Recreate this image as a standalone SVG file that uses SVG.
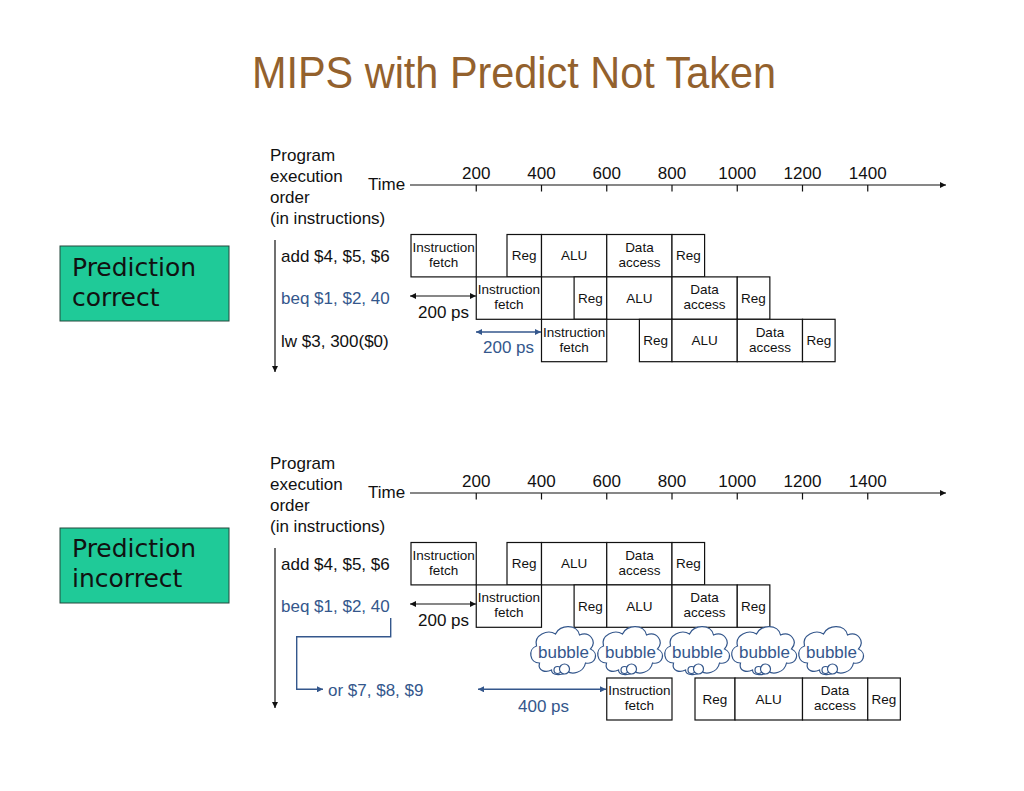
<svg xmlns="http://www.w3.org/2000/svg" width="1024" height="791" viewBox="0 0 1024 791">
<style>
.t{font-family:"Liberation Sans",Arial,sans-serif;fill:#111}
.lbl{font-size:17px}
.bl{fill:#34578c}
.bx{font-size:13.5px;text-anchor:middle}
.ax{font-size:17px;text-anchor:middle}
rect.st{fill:#fff;stroke:#111;stroke-width:1.2}
.ln{stroke:#111;stroke-width:1.2;fill:none}
.lnb{stroke:#34578c;stroke-width:1.4;fill:none}
.pred{fill:#1fca98;stroke:#24493d;stroke-width:1}
.pt{font-family:"DejaVu Sans",sans-serif;font-size:25px;fill:#111}
.cl{fill:#fff;stroke:#34578c;stroke-width:1.2}
.bt{font-family:"Liberation Sans",Arial,sans-serif;font-size:17px;fill:#34578c;text-anchor:middle}
</style>
<defs>
<marker id="ak" viewBox="0 0 10 10" refX="10" refY="5" markerWidth="8" markerHeight="6" markerUnits="userSpaceOnUse" orient="auto-start-reverse"><path d="M0,0L10,5L0,10z" fill="#111"/></marker>
<marker id="ab" viewBox="0 0 10 10" refX="10" refY="5" markerWidth="8" markerHeight="6" markerUnits="userSpaceOnUse" orient="auto-start-reverse"><path d="M0,0L10,5L0,10z" fill="#34578c"/></marker>
<g id="cloud">
<path class="cl" d="M-24,12 C-34,12 -36,-2 -27,-5 C-30,-16 -16,-22 -8,-17 C-4,-27 14,-27 16,-16 C26,-20 34,-10 27,-2 C36,2 32,14 22,12 C20,22 8,24 4,20 C0,25 -12,25 -12,19 C-18,22 -26,20 -24,12 Z"/>
<circle class="cl" cx="-6" cy="19" r="3.5"/>
<circle class="cl" cx="1" cy="18" r="5"/>
</g>
</defs>

<g id="title">
<text x="252" y="88" font-family="Liberation Sans, Arial, sans-serif" font-size="44" fill="#93612d" textLength="524" lengthAdjust="spacingAndGlyphs">MIPS with Predict Not Taken</text>
</g>

<g id="pred-correct">
<rect class="pred" x="60" y="246" width="169" height="75"/>
<text class="pt" x="72" y="276">Prediction</text>
<text class="pt" x="72" y="306">correct</text>
</g>
<g id="pred-incorrect">
<rect class="pred" x="60" y="528" width="169" height="75"/>
<text class="pt" x="72" y="557">Prediction</text>
<text class="pt" x="72" y="587">incorrect</text>
</g>

<!-- ================= TOP ================= -->
<g id="top-axis">
<text class="t lbl" x="270" y="161">Program</text>
<text class="t lbl" x="270" y="182">execution</text>
<text class="t lbl" x="270" y="203">order</text>
<text class="t lbl" x="270" y="224">(in instructions)</text>
<text class="t lbl" x="368" y="190">Time</text>
<text class="t ax" x="476.25" y="179">200</text>
<text class="t ax" x="541.5" y="179">400</text>
<text class="t ax" x="606.75" y="179">600</text>
<text class="t ax" x="672" y="179">800</text>
<text class="t ax" x="737.25" y="179">1000</text>
<text class="t ax" x="802.5" y="179">1200</text>
<text class="t ax" x="867.75" y="179">1400</text>
</g>

<g id="top-add">
<text class="t lbl" x="281" y="262">add $4, $5, $6</text>
<rect class="st" x="411" y="234.5" width="65.25" height="42.4"/>
<text class="t bx" x="443.6" y="252">Instruction</text><text class="t bx" x="443.6" y="267">fetch</text>
<rect class="st" x="507" y="234.5" width="34.5" height="42.4"/>
<text class="t bx" x="524.2" y="260">Reg</text>
<rect class="st" x="541.5" y="234.5" width="65.25" height="42.4"/>
<text class="t bx" x="574.1" y="260">ALU</text>
<rect class="st" x="606.75" y="234.5" width="65.25" height="42.4"/>
<text class="t bx" x="639.4" y="252">Data</text><text class="t bx" x="639.4" y="267">access</text>
<rect class="st" x="672" y="234.5" width="32.6" height="42.4"/>
<text class="t bx" x="688.3" y="260">Reg</text>
</g>

<g id="top-beq">
<text class="t lbl bl" x="281" y="304">beq $1, $2, 40</text>
<rect class="st" x="476.25" y="276.9" width="65.25" height="42.4"/>
<text class="t bx" x="508.9" y="294.3">Instruction</text><text class="t bx" x="508.9" y="309.3">fetch</text>
<rect class="st" x="574.1" y="276.9" width="32.65" height="42.4"/>
<text class="t bx" x="590.4" y="302.6">Reg</text>
<rect class="st" x="606.75" y="276.9" width="65.25" height="42.4"/>
<text class="t bx" x="639.4" y="302.6">ALU</text>
<rect class="st" x="672" y="276.9" width="65.25" height="42.4"/>
<text class="t bx" x="704.6" y="294.3">Data</text><text class="t bx" x="704.6" y="309.3">access</text>
<rect class="st" x="737.25" y="276.9" width="32.6" height="42.4"/>
<text class="t bx" x="753.5" y="302.6">Reg</text>
</g>

<g id="top-lw">
<text class="t lbl" x="281" y="346.5">lw  $3, 300($0)</text>
<rect class="st" x="541.5" y="319.3" width="65.25" height="42.4"/>
<text class="t bx" x="574.1" y="336.7">Instruction</text><text class="t bx" x="574.1" y="351.7">fetch</text>
<rect class="st" x="639.4" y="319.3" width="32.6" height="42.4"/>
<text class="t bx" x="655.7" y="345">Reg</text>
<rect class="st" x="672" y="319.3" width="65.25" height="42.4"/>
<text class="t bx" x="704.6" y="345">ALU</text>
<rect class="st" x="737.25" y="319.3" width="65.25" height="42.4"/>
<text class="t bx" x="769.9" y="336.7">Data</text><text class="t bx" x="769.9" y="351.7">access</text>
<rect class="st" x="802.5" y="319.3" width="32.6" height="42.4"/>
<text class="t bx" x="818.8" y="345">Reg</text>
</g>

<g id="top-times">
<text class="t lbl" x="418" y="318">200 ps</text>
<text class="t lbl bl" x="483" y="353">200 ps</text>
</g>

<!-- ================= BOTTOM ================= -->
<g id="bot-axis">
<text class="t lbl" x="270" y="469">Program</text>
<text class="t lbl" x="270" y="490">execution</text>
<text class="t lbl" x="270" y="511">order</text>
<text class="t lbl" x="270" y="532">(in instructions)</text>
<text class="t lbl" x="368" y="498">Time</text>
<text class="t ax" x="476.25" y="487">200</text>
<text class="t ax" x="541.5" y="487">400</text>
<text class="t ax" x="606.75" y="487">600</text>
<text class="t ax" x="672" y="487">800</text>
<text class="t ax" x="737.25" y="487">1000</text>
<text class="t ax" x="802.5" y="487">1200</text>
<text class="t ax" x="867.75" y="487">1400</text>
</g>

<g id="bot-add">
<text class="t lbl" x="281" y="570">add $4, $5, $6</text>
<rect class="st" x="411" y="542.5" width="65.25" height="42.4"/>
<text class="t bx" x="443.6" y="560">Instruction</text><text class="t bx" x="443.6" y="575">fetch</text>
<rect class="st" x="507" y="542.5" width="34.5" height="42.4"/>
<text class="t bx" x="524.2" y="568.2">Reg</text>
<rect class="st" x="541.5" y="542.5" width="65.25" height="42.4"/>
<text class="t bx" x="574.1" y="568.2">ALU</text>
<rect class="st" x="606.75" y="542.5" width="65.25" height="42.4"/>
<text class="t bx" x="639.4" y="560">Data</text><text class="t bx" x="639.4" y="575">access</text>
<rect class="st" x="672" y="542.5" width="32.6" height="42.4"/>
<text class="t bx" x="688.3" y="568.2">Reg</text>
</g>

<g id="bot-beq">
<text class="t lbl bl" x="281" y="612">beq $1, $2, 40</text>
<rect class="st" x="476.25" y="584.9" width="65.25" height="42.4"/>
<text class="t bx" x="508.9" y="602.3">Instruction</text><text class="t bx" x="508.9" y="617.3">fetch</text>
<rect class="st" x="574.1" y="584.9" width="32.65" height="42.4"/>
<text class="t bx" x="590.4" y="610.6">Reg</text>
<rect class="st" x="606.75" y="584.9" width="65.25" height="42.4"/>
<text class="t bx" x="639.4" y="610.6">ALU</text>
<rect class="st" x="672" y="584.9" width="65.25" height="42.4"/>
<text class="t bx" x="704.6" y="602.3">Data</text><text class="t bx" x="704.6" y="617.3">access</text>
<rect class="st" x="737.25" y="584.9" width="32.6" height="42.4"/>
<text class="t bx" x="753.5" y="610.6">Reg</text>
</g>

<g id="bubble1"><use href="#cloud" x="563.5" y="651"/><text class="bt" x="563.5" y="658">bubble</text></g>
<g id="bubble2"><use href="#cloud" x="630.5" y="651"/><text class="bt" x="630.5" y="658">bubble</text></g>
<g id="bubble3"><use href="#cloud" x="697.5" y="651"/><text class="bt" x="697.5" y="658">bubble</text></g>
<g id="bubble4"><use href="#cloud" x="764.5" y="651"/><text class="bt" x="764.5" y="658">bubble</text></g>
<g id="bubble5"><use href="#cloud" x="831.5" y="651"/><text class="bt" x="831.5" y="658">bubble</text></g>

<g id="bot-or">
<text class="t lbl bl" x="328" y="696">or $7, $8, $9</text>
<rect class="st" x="606.75" y="678" width="65.25" height="42"/>
<text class="t bx" x="639.4" y="695.2">Instruction</text><text class="t bx" x="639.4" y="710.2">fetch</text>
<rect class="st" x="695" y="678" width="40" height="42"/>
<text class="t bx" x="715" y="703.5">Reg</text>
<rect class="st" x="735" y="678" width="67.5" height="42"/>
<text class="t bx" x="768.7" y="703.5">ALU</text>
<rect class="st" x="802.5" y="678" width="65.25" height="42"/>
<text class="t bx" x="835.1" y="695.2">Data</text><text class="t bx" x="835.1" y="710.2">access</text>
<rect class="st" x="867.75" y="678" width="32.6" height="42"/>
<text class="t bx" x="884" y="703.5">Reg</text>
</g>

<g id="bot-times">
<text class="t lbl" x="418" y="626">200 ps</text>
<text class="t lbl bl" x="518" y="712">400 ps</text>
</g>

<g id="connectors">
<line class="ln" x1="410" y1="185" x2="946" y2="185" marker-end="url(#ak)"/>
<path class="ln" d="M476.25,185v6.5M541.5,185v6.5M606.75,185v6.5M672,185v6.5M737.25,185v6.5M802.5,185v6.5M867.75,185v6.5"/>
<line class="ln" x1="275" y1="240" x2="275" y2="372" marker-end="url(#ak)"/>
<line class="ln" x1="410" y1="296" x2="476" y2="296" marker-start="url(#ak)" marker-end="url(#ak)"/>
<line class="lnb" x1="476" y1="332" x2="541" y2="332" marker-start="url(#ab)" marker-end="url(#ab)"/>
<line class="ln" x1="410" y1="493" x2="946" y2="493" marker-end="url(#ak)"/>
<path class="ln" d="M476.25,493v6.5M541.5,493v6.5M606.75,493v6.5M672,493v6.5M737.25,493v6.5M802.5,493v6.5M867.75,493v6.5"/>
<line class="ln" x1="275" y1="548" x2="275" y2="708" marker-end="url(#ak)"/>
<line class="ln" x1="410" y1="604" x2="476" y2="604" marker-start="url(#ak)" marker-end="url(#ak)"/>
<path class="lnb" d="M390.7,618V636.7H296.7V689.3H323" marker-end="url(#ab)"/>
<line class="lnb" x1="478" y1="689.3" x2="606" y2="689.3" marker-start="url(#ab)" marker-end="url(#ab)"/>
</g>
</svg>
